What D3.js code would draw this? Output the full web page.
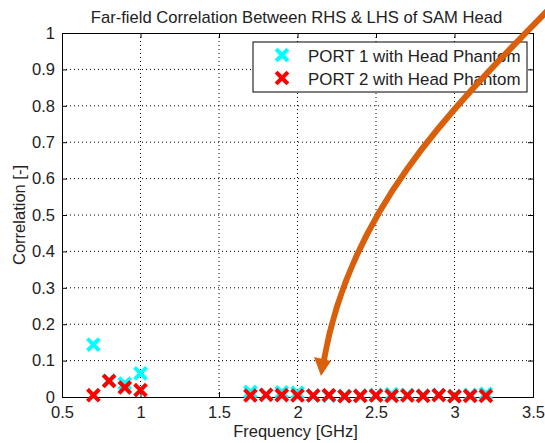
<!DOCTYPE html>
<html>
<head>
<meta charset="utf-8">
<script src="https://cdn.jsdelivr.net/npm/d3@7"></script>
<style>
  body { margin: 0; background: #fff; }
  svg { font-family: Arial, "Liberation Sans", sans-serif; }
</style>
</head>
<body>
<div id="chart"></div>
<script>
// Data
const freqLow = [0.7, 0.8, 0.9, 1.0];
const freqHigh = [1.7, 1.8, 1.9, 2.0, 2.1, 2.2, 2.3, 2.4, 2.5, 2.6, 2.7, 2.8, 2.9, 3.0, 3.1, 3.2];
const port1Low = [0.144, 0.045, 0.037, 0.065];
const port2Low = [0.005, 0.044, 0.026, 0.019];
const port1High = [0.014, 0.006, 0.013, 0.012, 0.004, 0.003, 0.003, 0.004, 0.006, 0.008, 0.006, 0.004, 0.006, 0.003, 0.006, 0.009];
const port2High = [0.004, 0.006, 0.005, 0.004, 0.004, 0.005, 0.002, 0.003, 0.004, 0.003, 0.004, 0.003, 0.005, 0.002, 0.003, 0.003];
const xTicks = [0.5, 1, 1.5, 2, 2.5, 3, 3.5];
const yTicks = [0, 0.1, 0.2, 0.3, 0.4, 0.5, 0.6, 0.7, 0.8, 0.9, 1];
const seriesNames = ["PORT 1 with Head Phantom", "PORT 2 with Head Phantom"];
const seriesColors = ["#00ffff", "#ff0000"];

const width = 545;
const height = 443;
const margin = { top: 33, right: 12, bottom: 46, left: 62 };
const innerWidth = width - margin.left - margin.right;
const innerHeight = height - margin.top - margin.bottom;

const svg = d3.select("#chart")
    .append("svg")
    .attr("width", width)
    .attr("height", height);

const chart = svg.append("g")
    .attr("transform", `translate(${margin.left}, ${margin.top})`);

const x = d3.scaleLinear().domain([0.5, 3.5]).range([0, innerWidth]);
const y = d3.scaleLinear().domain([0, 1]).range([innerHeight, 0]);

// Title
svg.append("text")
    .attr("x", margin.left + innerWidth / 2 - 1)
    .attr("y", 23)
    .attr("text-anchor", "middle")
    .style("font-size", "16.6px")
    .style("fill", "#222")
    .text("Far-field Correlation Between RHS & LHS of SAM Head");

// Grid (dotted, matlab style)
chart.selectAll(".xgrid")
    .data(xTicks.slice(1, -1))
    .enter().append("line")
    .attr("x1", d => x(d)).attr("x2", d => x(d))
    .attr("y1", 0).attr("y2", innerHeight)
    .attr("stroke", "#000")
    .attr("stroke-width", 1)
    .attr("stroke-dasharray", "1,3");

chart.selectAll(".ygrid")
    .data(yTicks.slice(1, -1))
    .enter().append("line")
    .attr("y1", d => y(d)).attr("y2", d => y(d))
    .attr("x1", 0).attr("x2", innerWidth)
    .attr("stroke", "#000")
    .attr("stroke-width", 1)
    .attr("stroke-dasharray", "1,3");

// Axes with inward ticks
const xAxis = chart.append("g")
    .attr("transform", `translate(0, ${innerHeight})`)
    .call(d3.axisBottom(x).tickValues(xTicks).tickSize(-5).tickPadding(9).tickFormat(d3.format("")));
const xAxisTop = chart.append("g")
    .call(d3.axisTop(x).tickValues(xTicks).tickSize(-5).tickFormat(""));
const yAxis = chart.append("g")
    .call(d3.axisLeft(y).tickValues(yTicks).tickSize(-5).tickPadding(7).tickFormat(d3.format("")));
const yAxisRight = chart.append("g")
    .attr("transform", `translate(${innerWidth}, 0)`)
    .call(d3.axisRight(y).tickValues(yTicks).tickSize(-5).tickFormat(""));

[xAxis, xAxisTop, yAxis, yAxisRight].forEach(g => {
    g.select(".domain").attr("stroke", "#000").attr("stroke-width", 1);
    g.selectAll(".tick line").attr("stroke", "#000");
    g.selectAll("text").style("font-size", "16.5px").style("fill", "#222").style("font-family", "Arial, 'Liberation Sans', sans-serif");
});

// Axis labels
svg.append("text")
    .attr("x", margin.left + innerWidth / 2 - 2)
    .attr("y", 437)
    .attr("text-anchor", "middle")
    .style("font-size", "16.5px")
    .style("fill", "#222")
    .text("Frequency [GHz]");

svg.append("text")
    .attr("transform", "rotate(-90)")
    .attr("x", -(margin.top + innerHeight / 2))
    .attr("y", 25)
    .attr("text-anchor", "middle")
    .style("font-size", "16.5px")
    .style("fill", "#222")
    .text("Correlation [-]");

// Thick "x" markers
const crossPath = "M-4.5,-4.5L4.5,4.5M-4.5,4.5L4.5,-4.5";

function drawSeries(freqs, vals, color) {
    chart.selectAll(null)
        .data(freqs.map((f, i) => ({ f: f, v: vals[i] })))
        .enter().append("path")
        .attr("d", crossPath)
        .attr("transform", d => `translate(${x(d.f)}, ${y(d.v)})`)
        .attr("fill", "none")
        .attr("stroke", color)
        .attr("stroke-width", 4)
        .attr("stroke-linecap", "square");
}

drawSeries(freqLow, port1Low, seriesColors[0]);
drawSeries(freqHigh, port1High, seriesColors[0]);
drawSeries(freqLow, port2Low, seriesColors[1]);
drawSeries(freqHigh, port2High, seriesColors[1]);

// Legend
const legend = svg.append("g").attr("transform", "translate(253, 42)");
legend.append("rect")
    .attr("width", 274)
    .attr("height", 50)
    .attr("fill", "#fff")
    .attr("stroke", "#000")
    .attr("stroke-width", 1);

seriesNames.forEach((name, i) => {
    const row = legend.append("g").attr("transform", `translate(0, ${13 + i * 23})`);
    row.append("path")
        .attr("d", crossPath)
        .attr("transform", "translate(29, 0)")
        .attr("fill", "none")
        .attr("stroke", seriesColors[i])
        .attr("stroke-width", 4)
        .attr("stroke-linecap", "square");
    row.append("text")
        .attr("x", 55)
        .attr("y", 6.5)
        .style("font-size", "16.9px")
        .style("fill", "#222")
        .text(name);
});

// Orange annotation arrow
const arrowColor = "#d95f0a";
svg.append("path")
    .attr("d", "M 550 8 C 450 110, 350 210, 324 360")
    .attr("fill", "none")
    .attr("stroke", arrowColor)
    .attr("stroke-width", 6);
svg.append("path")
    .attr("d", "M 314 357 L 331 361 L 321 376 Z")
    .attr("fill", arrowColor);
</script>
</body>
</html>
